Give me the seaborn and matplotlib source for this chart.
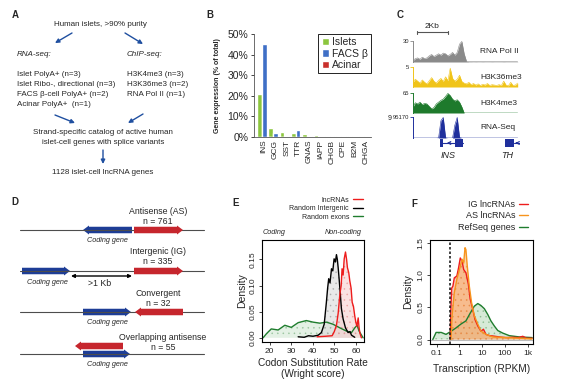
import numpy as np
import pandas as pd
import seaborn as sns
import matplotlib.pyplot as plt
from matplotlib.patches import FancyArrow, Rectangle
from matplotlib.ticker import FuncFormatter

W, H = 565, 388

# ---------------- panel B: top expressed genes ----------------
genes = ["INS", "GCG", "SST", "TTR", "GNAS", "IAPP", "CHGB", "CPE", "B2M", "CHGA"]
islets = [21.0, 4.3, 2.2, 2.0, 1.6, 1.2, 0.7, 0.5, 0.4, 0.4]
facs_beta = [45.0, 1.8, 0.6, 3.6, 0.5, 0.1, 0.3, 0.3, 0.2, 0.2]
acinar = [0.05, 0.05, 0.05, 0.05, 0.05, 0.05, 0.05, 0.05, 0.05, 0.05]
sources = ["Islets", "FACS β", "Acinar"]

# ---------------- panel C: browser tracks (0.15 kb bins) ----------------
bin_kb = 0.15
pol2 = [2, 5, 6, 4, 7, 5, 6, 9, 11, 8, 10, 12, 10, 13, 12, 9, 11, 14, 10, 14,
        26, 30, 12, 1, 0.5, 0.5, 0.4, 0.5, 0.4, 0.4, 0.5, 0.4, 0.4, 0.4, 0.5,
        0.4, 0.4, 0.4, 0.4, 0.5, 0.4, 0.4, 0.4, 0.4, 0.4, 0.4]
k36 = [1.2, 2.0, 1.5, 1.0, 1.8, 1.2, 0.8, 1.6, 2.4, 1.5, 1.0, 1.7, 2.2, 1.4,
       2.6, 1.6, 4.8, 2.2, 1.5, 2.0, 3.0, 1.4, 1.0, 0.8, 1.2, 0.6, 0.9, 0.5,
       0.8, 0.4, 0.7, 0.5, 0.9, 0.4, 0.6, 0.5, 0.4, 0.6, 0.4, 1.5, 0.5, 0.3,
       1.2, 0.4, 0.5, 1.0]
k4 = [20, 34, 30, 36, 28, 32, 30, 22, 14, 18, 30, 36, 42, 46, 55, 65, 58, 46,
      40, 44, 36, 20, 0, 0, 0, 0, 0, 0, 0, 0, 0, 0, 0, 0, 0, 0, 0, 0, 0, 0, 0,
      0, 0, 0, 0, 0]
rnaseq = [0, 0, 0, 0, 0, 0, 0, 0, 0, 0, 0, 800, 80000, 95170, 1500, 0, 0, 0,
          60000, 95170, 3000, 0, 0, 0, 0, 0, 0, 0, 0, 0, 0, 0, 0, 0, 0, 0, 0,
          0, 0, 0, 0, 0, 0, 0, 0, 0]
track_max = [30, 5, 65, 95170]
track_names = ["RNA Pol II", "H3K36me3", "H3K4me3", "RNA-Seq"]
track_cols = ["#8a8a8a", "#f0c419", "#1e7a2c", "#1f2f9c"]
ins_exons = [(1.74, 1.94), (2.71, 3.23)]
th_exons = [(5.94, 6.52)]

# ---------------- panel D: lncRNA classes ----------------
d_titles = ["Antisense (AS)", "Intergenic (IG)", "Convergent", "Overlapping antisense"]
d_counts = [761, 335, 32, 55]
d_line_y = [230, 271, 312, 354]
coding_arrows = [(132, 83), (22, 70), (83, 131), (83, 130)]
lnc_arrows = [(134, 183), (134, 183), (183, 135), (123, 75)]
lnc_offset = [0, 0, 0, -8]
coding_label_x = [107, 47, 107, 107]
coding_label_dy = [11, 11, 11, 10]

# ---------------- panel E: codon substitution ----------------
lnc_x = [42, 46, 49, 50, 51, 51.8, 52.6, 53.2, 53.6, 54.1, 54.6, 55.2, 55.7,
         56.1, 56.7, 57.2, 57.8, 58.3, 58.9, 59.5, 60.0, 60.5, 61.1, 61.5,
         61.9, 62.6]
lnc_y = [0.002, 0.003, 0.004, 0.012, 0.024, 0.047, 0.084, 0.10, 0.132, 0.12,
         0.151, 0.164, 0.150, 0.134, 0.125, 0.109, 0.095, 0.068, 0.060, 0.042,
         0.030, 0.022, 0.038, 0.02, 0.009, 0.0]
intg_x = [33.2, 36, 38, 40.1, 42.5, 44.0, 45.3, 46.3, 46.9, 47.4, 48.0, 48.7,
          49.3, 49.9, 50.5, 51.0, 51.4, 51.8, 52.2, 52.6, 53.3, 54.1, 55.2,
          56.4, 57.3, 58.0, 59.5]
intg_y = [0.002, 0.001, 0.004, 0.003, 0.005, 0.010, 0.026, 0.067, 0.095,
          0.113, 0.105, 0.132, 0.128, 0.151, 0.145, 0.159, 0.150, 0.134,
          0.115, 0.094, 0.056, 0.036, 0.019, 0.010, 0.012, 0.005, 0.001]
exon_x = [16.9, 18.5, 20.7, 23.9, 27.0, 30.0, 33.2, 37.0, 40.1, 43.3, 46.3,
          49.4, 52.6, 55.6, 58.0, 59.5, 60.6, 61.5, 63.4]
exon_y = [0.0, 0.008, 0.017, 0.015, 0.024, 0.020, 0.029, 0.033, 0.030, 0.028,
          0.030, 0.026, 0.019, 0.013, 0.010, 0.019, 0.024, 0.013, 0.0]

# ---------------- panel F: transcription ----------------
ig_x = [0.40, 0.42, 0.46, 0.52, 0.60, 0.78, 0.93, 1.1, 1.32, 1.55, 1.95, 2.5,
        3.0, 3.9, 4.9, 6.5, 8.9, 11.5, 14.8, 22, 29.5, 57.5, 112, 224, 398,
        617, 891, 1585]
ig_y = [0.0, 0.45, 0.80, 0.83, 0.96, 0.99, 1.12, 1.27, 1.22, 1.09, 1.04, 0.86,
        0.63, 0.47, 0.31, 0.21, 0.13, 0.16, 0.08, 0.06, 0.055, 0.04, 0.03,
        0.035, 0.03, 0.05, 0.02, 0.02]
as_x = [0.43, 0.48, 0.60, 0.78, 0.93, 1.1, 1.32, 1.55, 1.78, 1.95, 2.24, 2.75,
        3.47, 4.57, 6.5, 8.9, 14.8, 29.5, 112, 437, 1585]
as_y = [0.0, 0.37, 0.73, 0.94, 1.04, 1.14, 1.25, 1.19, 1.43, 1.40, 1.14, 0.83,
        0.57, 0.37, 0.24, 0.13, 0.08, 0.04, 0.03, 0.02, 0.01]
ref_x = [0.068, 0.095, 0.16, 0.26, 0.44, 0.71, 1.17, 1.95, 3.0, 4.57, 6.5, 8.9,
         12.6, 17.8, 24.5, 34.7, 49, 81, 158, 437, 1585]
ref_y = [0.0, 0.11, 0.11, 0.08, 0.13, 0.18, 0.24, 0.29, 0.41, 0.52, 0.56, 0.53,
         0.48, 0.39, 0.29, 0.21, 0.14, 0.10, 0.06, 0.04, 0.03]
rpkm_cut = 0.4


def px(l, t, r, b):
    return [l / W, 1 - b / H, (r - l) / W, (b - t) / H]


sns.set_style("ticks")
plt.rcParams['font.family'] = ['Liberation Sans', 'DejaVu Sans']
plt.rcParams['hatch.linewidth'] = 0.4

fig = plt.figure(figsize=(W / 100, H / 100), dpi=100)

# overlay in pixel coordinates for the schematic panels
ax0 = fig.add_axes([0, 0, 1, 1])
ax0.set_xlim(0, W)
ax0.set_ylim(H, 0)
ax0.axis("off")

for letter, (lx, ly) in zip("ABCDEF", [(15, 15), (210, 15), (400, 15), (15, 202), (236, 203), (414, 204)]):
    ax0.text(lx, ly, letter, fontsize=7, fontweight="bold", ha="center", va="center")

# ---- A: workflow text ----
fs_a = 5.8
blue_arrow = "#1f4fa0"
ax0.text(100, 25, "Human islets, >90% purity", fontsize=fs_a, ha="center", va="center")
ax0.text(17, 55, "RNA-seq:", fontsize=fs_a, style="italic", va="center")
ax0.text(127, 55, "ChIP-seq:", fontsize=fs_a, style="italic", va="center")
rna_list = ["Islet PolyA+ (n=3)", "Islet Ribo-, directional (n=3)",
            "FACS β-cell PolyA+ (n=2)", "Acinar PolyA+  (n=1)"]
chip_list = ["H3K4me3 (n=3)", "H3K36me3 (n=2)", "RNA Pol II (n=1)"]
for i, s in enumerate(rna_list):
    ax0.text(17, 74 + i * 10.3, s, fontsize=fs_a, va="center")
for i, s in enumerate(chip_list):
    ax0.text(127, 74 + i * 10.3, s, fontsize=fs_a, va="center")
ax0.text(103, 133, "Strand-specific catalog of active human", fontsize=fs_a, ha="center", va="center")
ax0.text(103, 143, "islet-cell genes with splice variants", fontsize=fs_a, ha="center", va="center")
ax0.text(103, 173, "1128 islet-cell lncRNA genes", fontsize=fs_a, ha="center", va="center")
flow_arrows = [((72, 33), (55, 43)), ((125, 33), (143, 44)), ((55, 115), (75, 123)),
               ((143, 114), (128, 123)), ((103, 150), (103, 164))]
for start, end in flow_arrows:
    ax0.annotate("", xy=end, xytext=start,
                 arrowprops=dict(arrowstyle="-|>", color=blue_arrow, lw=1.0,
                                 mutation_scale=6, shrinkA=0, shrinkB=0))

# ---- B: bar chart ----
axB = fig.add_axes(px(254, 34, 371, 137))
dfB = pd.DataFrame({"gene": genes * 3,
                    "source": [s for s in sources for _ in genes],
                    "pct": islets + facs_beta + acinar})
sns.barplot(data=dfB, x="gene", y="pct", hue="source", hue_order=sources,
            palette=["#8cc63e", "#3f6fc6", "#c9302c"], width=1.25, saturation=1,
            ax=axB)
axB.set_xlim(-0.9, 9.44)
axB.set_ylim(0, 50)
axB.set_yticks([0, 10, 20, 30, 40, 50])
axB.yaxis.set_major_formatter(FuncFormatter(lambda v, p: f"{v:.0f}%"))
axB.tick_params(axis="y", labelsize=7.5, length=2.5, width=0.6, pad=1.5)
axB.tick_params(axis="x", labelsize=6, length=0, pad=2, labelrotation=90)
axB.set_xlabel("")
axB.set_ylabel("Gene expression (% of total)", fontsize=5, fontweight="bold")
axB.yaxis.set_label_coords(-0.28, 0.5)
for sp in ["left", "bottom"]:
    axB.spines[sp].set_linewidth(0.6)
    axB.spines[sp].set_color("#555555")
sns.despine(ax=axB)
leg = axB.legend(loc="upper right", bbox_to_anchor=(1.0, 1.0), borderaxespad=0,
                 fontsize=7.5, handlelength=0.7, handleheight=0.7,
                 handletextpad=0.3, labelspacing=0.15, borderpad=0.3,
                 fancybox=False, framealpha=1)
leg.get_frame().set_edgecolor("black")
leg.get_frame().set_linewidth(0.6)
ax0.text(390, 118, "9", fontsize=5, ha="center", va="center")

# ---- C: browser tracks ----
track_rects = [(413, 41, 520, 62), (413, 67, 520, 87), (413, 93, 520, 113), (413, 117, 520, 138)]
tracks = [pol2, k36, k4, rnaseq]
track_axes = []
for vals, vmax, name, col, rect in zip(tracks, track_max, track_names, track_cols, track_rects):
    ax = fig.add_axes(px(*rect))
    xs = np.arange(len(vals)) * bin_kb
    ax.fill_between(xs, vals, color=col, lw=0)
    ax.plot(xs, vals, color=col, lw=0.4)
    ax.set_xlim(0, 6.9)
    ax.set_ylim(0, vmax * 1.02)
    ax.set_yticks([vmax])
    ax.set_yticklabels([str(vmax)])
    ax.tick_params(axis="y", labelsize=4.2, length=2, width=0.6, color=col, pad=1)
    ax.set_xticks([])
    for sp in ["top", "right", "bottom"]:
        ax.spines[sp].set_visible(False)
    ax.spines["left"].set_color(col)
    ax.spines["left"].set_linewidth(0.7)
    ax.patch.set_alpha(0)
    ax.text(4.35, vmax * 0.5, name, fontsize=6, va="center", ha="left")
    track_axes.append(ax)
track_axes[0].axhline(0, color=track_cols[0], lw=0.6)
track_axes[1].axhline(0, color=track_cols[1], lw=0.6)
track_axes[2].axhline(0, color=track_cols[2], lw=0.6)
track_axes[3].plot([0, 3.5], [0, 0], color=track_cols[3], lw=0.6)
track_axes[3].plot([3.5, 6.9], [0, 0], color=track_cols[3], lw=0.6, ls=(0, (3, 3)))
# 2 kb scale bar above the Pol II track
axP = track_axes[0]
axP.plot([0.25, 2.25], [43, 43], color="#555555", lw=0.8, clip_on=False)
axP.plot([0.25, 0.25], [40.5, 45.5], color="#555555", lw=0.8, clip_on=False)
axP.plot([2.25, 2.25], [40.5, 45.5], color="#555555", lw=0.8, clip_on=False)
axP.text(1.25, 51, "2Kb", fontsize=6, ha="center", va="center")

axG = fig.add_axes(px(413, 137, 520, 149))
axG.set_xlim(0, 6.9)
axG.set_ylim(-1, 1)
axG.axis("off")
gcol = track_cols[3]
axG.plot([ins_exons[0][0], ins_exons[-1][1]], [0, 0], color=gcol, lw=0.8)
for a, b in ins_exons + th_exons:
    axG.add_patch(Rectangle((a, -0.6), b - a, 1.2, color=gcol, lw=0))
axG.annotate("", xy=(2.0, 0), xytext=(2.6, 0),
             arrowprops=dict(arrowstyle="->", color=gcol, lw=0.8, mutation_scale=5))
axG.plot([th_exons[0][1], 6.9], [0, 0], color=gcol, lw=0.8)
axG.annotate("", xy=(6.6, 0), xytext=(6.85, 0),
             arrowprops=dict(arrowstyle="->", color=gcol, lw=0.8, mutation_scale=5))
ax0.text(448, 156, "INS", fontsize=6.5, style="italic", ha="center", va="center")
ax0.text(507, 156, "TH", fontsize=6.5, style="italic", ha="center", va="center")

# ---- D: lncRNA classes ----
blue_g, red_g = "#1d3d96", "#c6262d"
for i, y in enumerate(d_line_y):
    ax0.plot([20, 204], [y, y], color="#4d4d4d", lw=0.8)
    c0, c1 = coding_arrows[i]
    ax0.add_patch(FancyArrow(c0, y, c1 - c0, 0, width=6.5, head_width=9,
                             head_length=6, length_includes_head=True,
                             color=blue_g, lw=0))
    l0, l1 = lnc_arrows[i]
    ly = y + lnc_offset[i]
    ax0.add_patch(FancyArrow(l0, ly, l1 - l0, 0, width=6.5, head_width=9,
                             head_length=6, length_includes_head=True,
                             color=red_g, lw=0, zorder=3))
    tx = 163 if i == 3 else 158
    ax0.text(tx, y - 19 + (0 if i < 3 else 2), d_titles[i], fontsize=6.3, ha="center", va="center")
    ax0.text(tx, y - 9 + (0 if i < 3 else 3), f"n = {d_counts[i]}", fontsize=6.3, ha="center", va="center")
    ax0.text(coding_label_x[i], y + coding_label_dy[i], "Coding gene", fontsize=5.2,
             style="italic", ha="center", va="center")
ax0.annotate("", xy=(132, 276), xytext=(71, 276),
             arrowprops=dict(arrowstyle="<|-|>", color="black", lw=1.0,
                             mutation_scale=5, shrinkA=0, shrinkB=0))
ax0.text(100, 284, ">1 Kb", fontsize=6.3, ha="center", va="center")


def r_style(ax):
    for sp in ax.spines.values():
        sp.set_linewidth(0.8)
        sp.set_color("black")
    ax.tick_params(labelsize=6, length=2.5, width=0.6, pad=1.5)
    ax.tick_params(axis="y", labelrotation=90)
    for lab in ax.get_yticklabels():
        lab.set_va("center")


# ---- E: codon substitution ----
axE = fig.add_axes(px(262, 240, 364, 342))
e_series = [(exon_x, exon_y, "#1f7d2e", "#d3e8d4", "#7fb585", "Random exons"),
            (intg_x, intg_y, "black", "#dadada", "#999999", "Random Intergenic"),
            (lnc_x, lnc_y, "#ee1c1c", "#f8d0d0", "#e88c8c", "lncRNAs")]
for xs, ys, lc, fc, dc, lab in e_series:
    axE.fill_between(xs, ys, facecolor=fc, edgecolor=dc, alpha=0.6, hatch="...", lw=0)
for xs, ys, lc, fc, dc, lab in e_series:
    sns.lineplot(x=xs, y=ys, ax=axE, color=lc, lw=1.0, estimator=None, label=lab)
axE.set_xlim(16.4, 63.8)
axE.set_ylim(-0.008, 0.187)
axE.set_xticks([20, 30, 40, 50, 60])
axE.set_yticks([0, 0.05, 0.10, 0.15])
axE.set_yticklabels(["0.00", "0.05", "0.10", "0.15"])
r_style(axE)
axE.set_ylabel("Density", fontsize=7.5)
axE.yaxis.set_label_coords(-0.15, 0.5)
axE.set_xlabel("Codon Substitution Rate\n(Wright score)", fontsize=7.3, linespacing=1.1)
axE.xaxis.set_label_coords(0.5, -0.16)
h, l = axE.get_legend_handles_labels()
axE.legend(h[::-1], l[::-1], loc="lower right", bbox_to_anchor=(0.99, 1.19),
           frameon=False, markerfirst=False, fontsize=5, handlelength=1.5,
           handletextpad=0.5, labelspacing=0.2, borderpad=0, borderaxespad=0)
ax0.text(263, 233, "Coding", fontsize=5.2, style="italic", ha="left", va="center")
ax0.text(362, 233, "Non-coding", fontsize=5.2, style="italic", ha="right", va="center")

# ---- F: transcription ----
axF = fig.add_axes(px(430, 240, 533, 344))
f_series = [(ref_x, ref_y, "#1f7d2e", "#b5dab6", "#6aa86e", "RefSeq genes"),
            (ig_x, ig_y, "#ee1c1c", "#f29a8a", "#e0604f", "IG lncRNAs"),
            (as_x, as_y, "#f7941d", "#f7b468", "#e8883a", "AS lncRNAs")]
axF.axhline(0, color="#bbbbbb", lw=0.8)
for xs, ys, lc, fc, dc, lab in f_series:
    axF.fill_between(xs, ys, facecolor=fc, edgecolor=dc, alpha=0.55, hatch="...", lw=0)
for xs, ys, lc, fc, dc, lab in f_series:
    sns.lineplot(x=xs, y=ys, ax=axF, color=lc, lw=1.0, estimator=None, label=lab)
axF.axvline(rpkm_cut, color="#222222", lw=1.2, ls=(0, (1.5, 1.2)))
axF.set_xscale("log")
axF.set_xlim(10 ** -1.29, 10 ** 3.24)
axF.set_ylim(-0.07, 1.55)
axF.set_xticks([0.1, 1, 10, 100, 1000])
axF.set_xticklabels(["0.1", "1", "10", "100", "1k"])
axF.minorticks_off()
axF.set_yticks([0, 0.5, 1.0, 1.5])
axF.set_yticklabels(["0.0", "0.5", "1.0", "1.5"])
r_style(axF)
axF.set_ylabel("Density", fontsize=7.5)
axF.yaxis.set_label_coords(-0.165, 0.5)
axF.set_xlabel("Transcription (RPKM)", fontsize=7.3)
axF.xaxis.set_label_coords(0.5, -0.19)
h, l = axF.get_legend_handles_labels()
order = [1, 2, 0]
axF.legend([h[i] for i in order], [l[i] for i in order], loc="lower right",
           bbox_to_anchor=(0.95, 1.08), frameon=False, markerfirst=False,
           fontsize=6.5, handlelength=1.0, handletextpad=0.4, labelspacing=0.25,
           borderpad=0, borderaxespad=0)

fig.savefig("out.png", dpi=100)
